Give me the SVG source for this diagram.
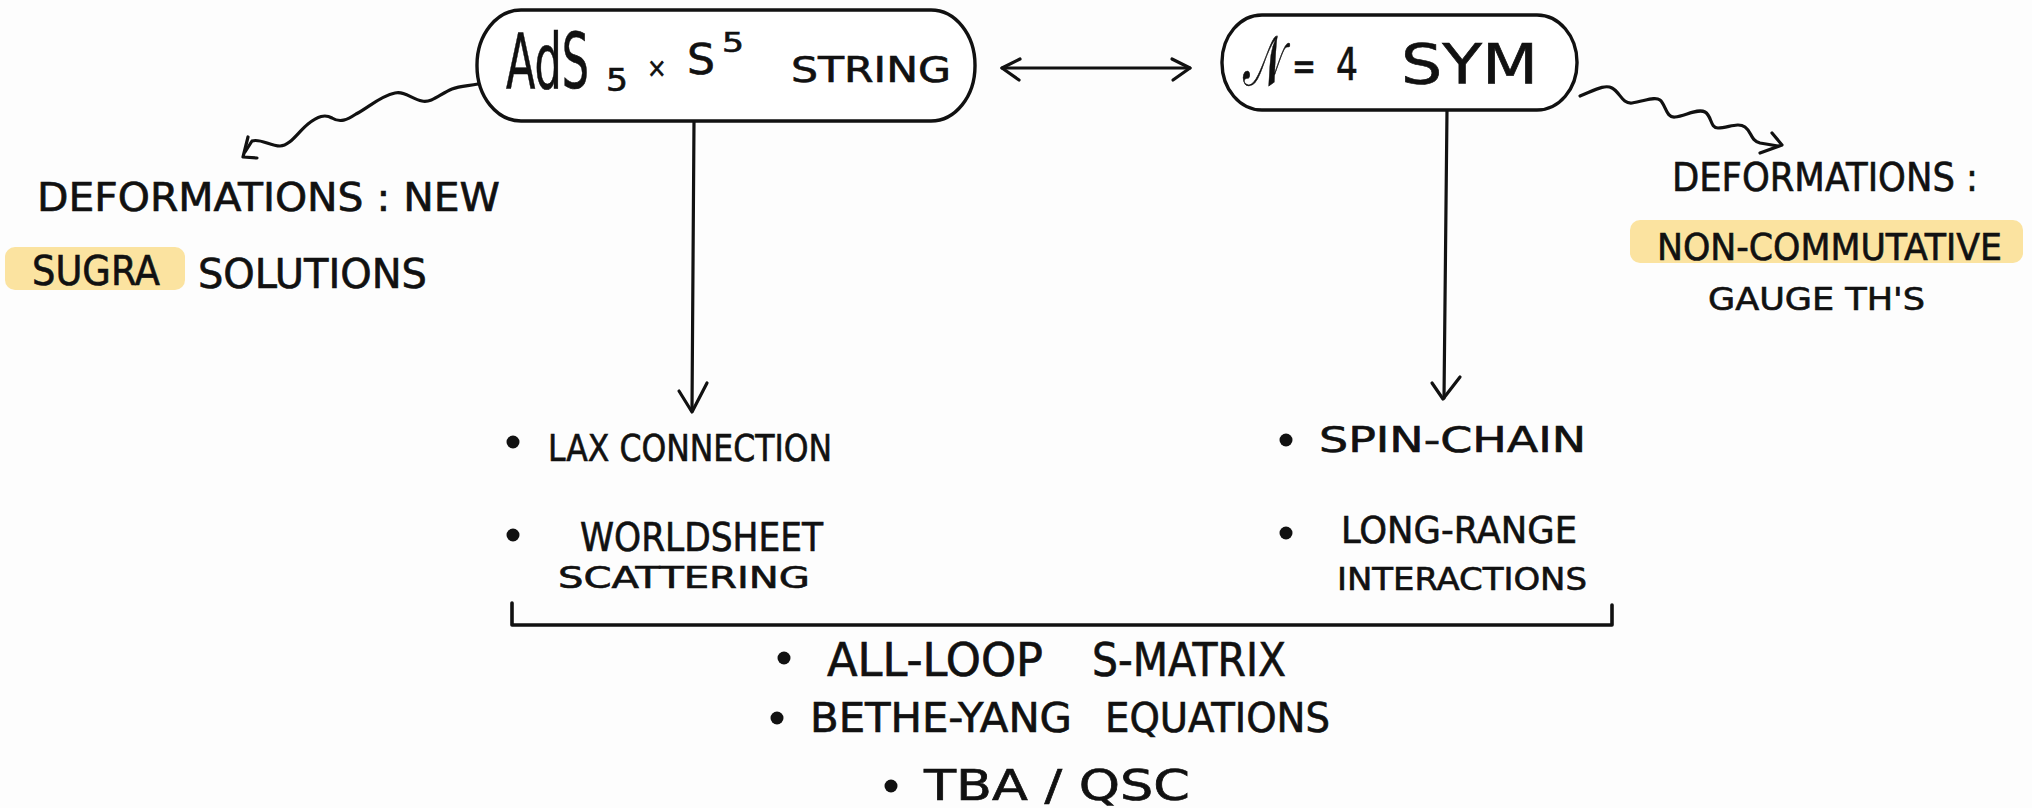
<svg xmlns="http://www.w3.org/2000/svg" width="2032" height="808" viewBox="0 0 2032 808">
<style>
.hw{font-family:"Liberation Sans Narrow","DejaVu Sans Condensed","Liberation Sans",sans-serif;fill:#111;stroke:#111;stroke-width:0.6;}
.ln{fill:none;stroke:#111;stroke-width:3.2;stroke-linecap:round;stroke-linejoin:round;}
.pill{fill:#fff;stroke:#111;stroke-width:3.4;}
.hl{fill:#FBE3A0;}
.dot{fill:#111;}
</style>
<rect width="2032" height="808" fill="#fdfdfd"/>

<g id="connectors">
  <path class="ln" d="M1002,68 L1190,68"/>
  <path class="ln" d="M1020,59 L1002,68 L1019,80"/>
  <path class="ln" d="M1172,59 L1190,68 L1173,80"/>
  <path class="ln" d="M694,121 L692,411"/>
  <path class="ln" d="M679,391 L692,412 L707,383"/>
  <path class="ln" d="M1447,110 L1444,398"/>
  <path class="ln" d="M1432,383 L1443,399 L1460,377"/>
  <path class="ln" d="M478,84 C468,86 460,86 452,89 C440,94 432,103 422,101 C412,99 405,91 395,93 C380,96 368,108 356,114 C347,120 340,123 332,118 C325,114 318,116 308,124 C298,132 290,146 280,146 C270,146 260,138 252,141 L245,152"/>
  <path class="ln" d="M248,137 L243,157 L257,158"/>
  <path class="ln" d="M1580,96 C1595,90 1605,84 1612,88 C1620,92 1622,104 1632,103 C1645,101 1655,96 1660,100 C1666,105 1666,118 1675,117 C1685,116 1698,108 1705,112 C1712,116 1710,128 1718,128 C1728,128 1738,122 1745,127 C1752,132 1750,140 1760,143 L1778,146"/>
  <path class="ln" d="M1772,133 L1782,145 L1760,153"/>
  <path class="ln" d="M512,603 L512,625 L1612,625 L1612,605" style="stroke-width:3.6"/>
</g>

<g id="node-ads">
  <rect class="pill" x="477" y="10" width="498" height="111" rx="44" ry="55"/>
  <text class="hw" transform="translate(506,88) scale(0.62,1)" x="0" y="0" font-size="76" textLength="134" lengthAdjust="spacingAndGlyphs">AdS</text>
  <text class="hw" x="606" y="91" font-size="32" textLength="22" lengthAdjust="spacingAndGlyphs">5</text>
  <text class="hw" x="647" y="77" font-size="26">×</text>
  <text class="hw" x="687" y="74" font-size="42" textLength="28" lengthAdjust="spacingAndGlyphs">S</text>
  <text class="hw" x="722" y="52" font-size="27" textLength="22" lengthAdjust="spacingAndGlyphs">5</text>
  <text class="hw" x="791" y="82" font-size="35" textLength="160" lengthAdjust="spacingAndGlyphs">STRING</text>
</g>

<g id="node-sym">
  <rect class="pill" x="1222" y="15" width="355" height="95" rx="40" ry="47"/>
  <text class="hw" transform="translate(1243,85) scale(0.73,1)" x="0" y="0" font-size="70" font-family="DejaVu Sans,Noto Sans,sans-serif" textLength="56" lengthAdjust="spacingAndGlyphs">𝒩</text>
  <text class="hw" x="1292" y="80" font-size="40" textLength="24" lengthAdjust="spacingAndGlyphs">=</text>
  <text class="hw" x="1336" y="80" font-size="45" textLength="22" lengthAdjust="spacingAndGlyphs">4</text>
  <text class="hw" x="1401" y="83" font-size="56" textLength="137" lengthAdjust="spacingAndGlyphs">SYM</text>
</g>

<g id="note-left">
  <text class="hw" x="37" y="211" font-size="39" textLength="463" lengthAdjust="spacingAndGlyphs">DEFORMATIONS : NEW</text>
  <rect class="hl" x="5" y="247" width="180" height="43" rx="10"/>
  <text class="hw" x="32" y="285" font-size="41" textLength="128" lengthAdjust="spacingAndGlyphs">SUGRA</text>
  <text class="hw" x="198" y="288" font-size="41" textLength="229" lengthAdjust="spacingAndGlyphs">SOLUTIONS</text>
</g>

<g id="note-right">
  <text class="hw" x="1672" y="191" font-size="39" textLength="306" lengthAdjust="spacingAndGlyphs">DEFORMATIONS :</text>
  <rect class="hl" x="1630" y="220" width="393" height="43" rx="10"/>
  <text class="hw" x="1657" y="260" font-size="37" textLength="345" lengthAdjust="spacingAndGlyphs">NON-COMMUTATIVE</text>
  <text class="hw" x="1708" y="310" font-size="32" textLength="217" lengthAdjust="spacingAndGlyphs">GAUGE TH'S</text>
</g>

<g id="list-left">
  <circle class="dot" cx="513" cy="442" r="6.5"/>
  <text class="hw" x="548" y="461" font-size="37" textLength="284" lengthAdjust="spacingAndGlyphs">LAX CONNECTION</text>
  <circle class="dot" cx="513" cy="535" r="6.5"/>
  <text class="hw" x="580" y="551" font-size="39" textLength="243" lengthAdjust="spacingAndGlyphs">WORLDSHEET</text>
  <text class="hw" x="558" y="588" font-size="30" textLength="252" lengthAdjust="spacingAndGlyphs">SCATTERING</text>
</g>

<g id="list-right">
  <circle class="dot" cx="1286" cy="440" r="6.5"/>
  <text class="hw" x="1319" y="452" font-size="36" textLength="267" lengthAdjust="spacingAndGlyphs">SPIN-CHAIN</text>
  <circle class="dot" cx="1286" cy="533" r="6.5"/>
  <text class="hw" x="1341" y="543" font-size="38" textLength="236" lengthAdjust="spacingAndGlyphs">LONG-RANGE</text>
  <text class="hw" x="1337" y="590" font-size="32" textLength="250" lengthAdjust="spacingAndGlyphs">INTERACTIONS</text>
</g>

<g id="list-common">
  <circle class="dot" cx="784" cy="658" r="6.5"/>
  <text class="hw" x="827" y="676" font-size="46" textLength="216" lengthAdjust="spacingAndGlyphs">ALL-LOOP</text>
  <text class="hw" x="1092" y="676" font-size="46" textLength="194" lengthAdjust="spacingAndGlyphs">S-MATRIX</text>
  <circle class="dot" cx="777" cy="718" r="6.5"/>
  <text class="hw" x="810" y="732" font-size="40" textLength="262" lengthAdjust="spacingAndGlyphs">BETHE-YANG</text>
  <text class="hw" x="1105" y="732" font-size="40" textLength="225" lengthAdjust="spacingAndGlyphs">EQUATIONS</text>
  <circle class="dot" cx="891" cy="786" r="6.5"/>
  <text class="hw" x="924" y="800" font-size="42" textLength="266" lengthAdjust="spacingAndGlyphs">TBA / QSC</text>
</g>
</svg>
